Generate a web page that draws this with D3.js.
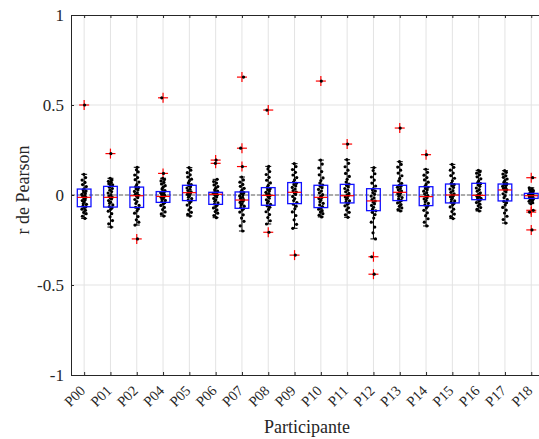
<!DOCTYPE html>
<html><head><meta charset="utf-8">
<script src="https://cdn.jsdelivr.net/npm/d3@7"></script>
<style>body{margin:0;background:#fff}svg{display:block}text{font-family:"Liberation Serif","Times New Roman",serif !important;fill:#262626}</style>
</head><body><svg id="c" width="539" height="439"></svg>
<script>
const categories = ["P00","P01","P02","P04","P05","P06","P07","P08","P09","P10","P11","P12","P13","P14","P15","P16","P17","P18"];
// box stats: whisker low, q1, median, q3, whisker high
const whiskerLo = [-0.13,-0.178,-0.167,-0.117,-0.117,-0.126,-0.20,-0.161,-0.185,-0.122,-0.124,-0.244,-0.089,-0.172,-0.131,-0.089,-0.156,-0.048];
const q1 =        [-0.065,-0.067,-0.069,-0.041,-0.031,-0.052,-0.074,-0.057,-0.048,-0.07,-0.044,-0.087,-0.031,-0.059,-0.044,-0.026,-0.033,-0.019];
const medians =   [-0.013,-0.013,-0.004,-0.008,0.013,0.004,-0.028,-0.002,0.015,-0.013,-0.004,-0.033,0.015,-0.009,0.0,-0.002,0.028,-0.004];
const q3 =        [0.033,0.048,0.044,0.019,0.054,0.015,0.017,0.041,0.069,0.054,0.059,0.035,0.054,0.046,0.061,0.065,0.061,0.009];
const whiskerHi = [0.115,0.093,0.154,0.093,0.152,0.087,0.10,0.159,0.174,0.194,0.196,0.152,0.185,0.143,0.17,0.137,0.135,0.04];
const outliers = [[0.50],[0.23],[-0.244],[0.54,0.12],[],[0.194,0.176],[0.655,0.26,0.158],[0.472,-0.207],[-0.334],[0.633],[0.283],[-0.343,-0.44],[0.372],[0.224],[],[],[],[0.096,-0.085,-0.095,-0.194]];
const points = [
 [-0.13,-0.118,-0.104,-0.097,-0.085,-0.079,-0.07,-0.066,-0.061,-0.052,-0.048,-0.039,-0.031,-0.026,-0.02,-0.013,-0.009,-0.004,0.003,0.009,0.016,0.022,0.029,0.034,0.047,0.058,0.07,0.083,0.097,0.115,0.50],
 [-0.178,-0.16,-0.142,-0.121,-0.104,-0.09,-0.079,-0.071,-0.064,-0.055,-0.046,-0.04,-0.031,-0.022,-0.016,-0.012,-0.006,0.002,0.011,0.019,0.027,0.036,0.043,0.05,0.057,0.063,0.07,0.076,0.084,0.093,0.23],
 [-0.244,-0.167,-0.151,-0.138,-0.12,-0.101,-0.088,-0.077,-0.068,-0.058,-0.047,-0.036,-0.025,-0.015,-0.007,-0.002,0.004,0.012,0.02,0.028,0.035,0.041,0.047,0.058,0.072,0.085,0.097,0.111,0.128,0.14,0.154],
 [-0.117,-0.105,-0.094,-0.081,-0.069,-0.058,-0.049,-0.043,-0.037,-0.03,-0.024,-0.018,-0.013,-0.009,-0.006,-0.002,0.003,0.008,0.012,0.016,0.019,0.025,0.034,0.043,0.052,0.061,0.07,0.078,0.086,0.093,0.12,0.54],
 [-0.117,-0.108,-0.096,-0.083,-0.07,-0.056,-0.045,-0.036,-0.029,-0.02,-0.012,-0.004,0.003,0.009,0.013,0.018,0.025,0.032,0.039,0.046,0.052,0.058,0.067,0.078,0.088,0.1,0.112,0.124,0.138,0.152],
 [-0.126,-0.114,-0.101,-0.092,-0.083,-0.072,-0.063,-0.056,-0.05,-0.043,-0.035,-0.027,-0.019,-0.011,-0.004,0.001,0.004,0.007,0.01,0.012,0.015,0.021,0.029,0.038,0.047,0.056,0.066,0.075,0.087,0.176,0.194],
 [-0.2,-0.171,-0.146,-0.128,-0.11,-0.095,-0.084,-0.077,-0.07,-0.062,-0.055,-0.049,-0.041,-0.035,-0.03,-0.026,-0.019,-0.012,-0.005,0.002,0.008,0.013,0.018,0.027,0.037,0.048,0.059,0.071,0.084,0.1,0.158,0.26,0.655],
 [-0.207,-0.161,-0.143,-0.125,-0.109,-0.093,-0.08,-0.068,-0.06,-0.052,-0.044,-0.035,-0.027,-0.018,-0.009,-0.003,0.002,0.008,0.015,0.022,0.029,0.035,0.042,0.054,0.067,0.082,0.098,0.114,0.13,0.145,0.159,0.472],
 [-0.334,-0.185,-0.163,-0.138,-0.114,-0.094,-0.077,-0.062,-0.051,-0.042,-0.031,-0.02,-0.008,0.003,0.011,0.016,0.024,0.033,0.042,0.05,0.058,0.065,0.072,0.084,0.097,0.111,0.126,0.141,0.158,0.174],
 [-0.122,-0.112,-0.104,-0.095,-0.087,-0.079,-0.072,-0.064,-0.055,-0.046,-0.037,-0.028,-0.02,-0.014,-0.007,0.002,0.012,0.022,0.031,0.04,0.048,0.055,0.066,0.08,0.095,0.112,0.13,0.15,0.172,0.194,0.633],
 [-0.124,-0.11,-0.096,-0.083,-0.071,-0.06,-0.051,-0.045,-0.039,-0.032,-0.025,-0.018,-0.011,-0.005,0.001,0.009,0.018,0.027,0.036,0.045,0.053,0.06,0.072,0.087,0.103,0.12,0.138,0.157,0.176,0.196,0.283],
 [-0.44,-0.343,-0.244,-0.21,-0.178,-0.151,-0.128,-0.109,-0.096,-0.088,-0.079,-0.068,-0.058,-0.049,-0.04,-0.034,-0.026,-0.016,-0.006,0.004,0.013,0.022,0.029,0.036,0.05,0.066,0.083,0.1,0.118,0.136,0.152],
 [-0.089,-0.081,-0.072,-0.063,-0.053,-0.044,-0.036,-0.03,-0.022,-0.014,-0.007,0.0,0.007,0.012,0.016,0.022,0.029,0.036,0.043,0.049,0.054,0.065,0.078,0.092,0.107,0.122,0.138,0.155,0.17,0.185,0.372],
 [-0.172,-0.151,-0.132,-0.115,-0.099,-0.085,-0.072,-0.062,-0.055,-0.046,-0.038,-0.03,-0.022,-0.015,-0.009,-0.003,0.005,0.013,0.021,0.029,0.036,0.043,0.048,0.059,0.071,0.084,0.097,0.11,0.126,0.143,0.224],
 [-0.131,-0.12,-0.106,-0.092,-0.079,-0.066,-0.055,-0.047,-0.04,-0.033,-0.025,-0.017,-0.01,-0.004,0.0,0.007,0.015,0.024,0.033,0.042,0.051,0.058,0.065,0.079,0.093,0.108,0.122,0.138,0.154,0.17],
 [-0.089,-0.08,-0.07,-0.06,-0.051,-0.042,-0.034,-0.028,-0.023,-0.018,-0.013,-0.009,-0.005,-0.002,0.004,0.012,0.021,0.03,0.039,0.048,0.056,0.063,0.069,0.079,0.09,0.101,0.112,0.121,0.13,0.137],
 [-0.156,-0.136,-0.118,-0.1,-0.084,-0.069,-0.055,-0.043,-0.035,-0.026,-0.015,-0.004,0.007,0.017,0.024,0.03,0.036,0.042,0.048,0.054,0.059,0.063,0.071,0.08,0.089,0.098,0.107,0.116,0.126,0.135],
 [-0.194,-0.095,-0.085,-0.048,-0.041,-0.035,-0.03,-0.026,-0.022,-0.02,-0.016,-0.013,-0.01,-0.007,-0.005,-0.003,0.0,0.002,0.004,0.006,0.008,0.01,0.014,0.019,0.024,0.029,0.034,0.04,0.096]
];
// horizontal jitter (fraction of category step)
const jitter = [0.05,-0.12,0.14,-0.03,0.09,-0.15,0.02,0.11,-0.08,0.16,-0.06,0.01,-0.13,0.07,-0.01,0.12,-0.1,0.04,-0.16,0.08,-0.04,0.13,-0.07,0.0,0.15,-0.11,0.06,-0.14,0.1,-0.02,0.03,-0.09,0.11];
const yTicks = [-1,-0.5,0,0.5,1];
const yTickLabels = ["-1","-0.5","0","0.5","1"];

const FONT = '"Liberation Serif","Times New Roman",serif';
const svg = d3.select("#c");
const L=71, T=15, R=544.4, B=375;
const x = d3.scalePoint().domain(categories).range([L,R]).padding(0.5);
const step = x.step();
const y = d3.scaleLinear().domain([-1,1]).range([B,T]);
const g = svg.append("g");

// grid
g.selectAll(".vg").data(categories).join("line")
 .attr("x1",d=>x(d)).attr("x2",d=>x(d)).attr("y1",T).attr("y2",B)
 .attr("stroke","#e3e3e3").attr("stroke-width",1);
g.selectAll(".hg").data(yTicks.filter(v=>v!==-1&&v!==1)).join("line")
 .attr("x1",L).attr("x2",R).attr("y1",d=>y(d)).attr("y2",d=>y(d))
 .attr("stroke","#e3e3e3").attr("stroke-width",1);
// zero dashed line
g.append("line").attr("x1",L).attr("x2",R).attr("y1",y(0)).attr("y2",y(0))
 .attr("stroke","#666").attr("stroke-width",1).attr("stroke-dasharray","4,2");

const idx = d3.range(categories.length);
const bw = step*0.52, cap = 3;
// whiskers
idx.forEach(i=>{
  const cx = x(categories[i]);
  g.append("line").attr("x1",cx).attr("x2",cx).attr("y1",y(whiskerLo[i])).attr("y2",y(q1[i])).attr("stroke","#000");
  g.append("line").attr("x1",cx).attr("x2",cx).attr("y1",y(q3[i])).attr("y2",y(whiskerHi[i])).attr("stroke","#000");
  [whiskerLo[i],whiskerHi[i]].forEach(v=>g.append("line").attr("x1",cx-cap).attr("x2",cx+cap).attr("y1",y(v)).attr("y2",y(v)).attr("stroke","#000"));
});
// outliers
idx.forEach(i=>{
  const cx = x(categories[i]);
  outliers[i].forEach(v=>{
    g.append("line").attr("x1",cx-5).attr("x2",cx+5).attr("y1",y(v)).attr("y2",y(v)).attr("stroke","#ff0000").attr("stroke-width",1.2);
    g.append("line").attr("x1",cx).attr("x2",cx).attr("y1",y(v)-5).attr("y2",y(v)+5).attr("stroke","#ff0000").attr("stroke-width",1.2);
  });
});
// points
idx.forEach(i=>{
  const cx = x(categories[i]);
  g.append("g").selectAll("circle").data(points[i]).join("circle")
   .attr("cx",(d,j)=>cx+jitter[j%jitter.length]*step*0.55)
   .attr("cy",d=>y(d)).attr("r",1.6).attr("fill","#000");
});
// boxes and medians
idx.forEach(i=>{
  const cx = x(categories[i]);
  g.append("rect").attr("x",cx-bw/2).attr("width",bw).attr("y",y(q3[i])).attr("height",y(q1[i])-y(q3[i]))
   .attr("fill","none").attr("stroke","#1010ff").attr("stroke-width",1.3);
  g.append("line").attr("x1",cx-bw/2).attr("x2",cx+bw/2).attr("y1",y(medians[i])).attr("y2",y(medians[i]))
   .attr("stroke","#ff0000").attr("stroke-width",1.2);
});

// axes
const ax = d3.axisBottom(x).tickSizeInner(-3).tickSizeOuter(0).tickPadding(6);
const xa = svg.append("g").attr("transform",`translate(0,${B})`).call(ax);
xa.attr("font-family",FONT);
xa.select(".domain").attr("stroke","#262626");
xa.selectAll(".tick line").attr("stroke","#262626");
xa.selectAll(".tick text").attr("font-size",14.5).attr("fill","#262626")
  .attr("text-anchor","end").attr("dy","0.35em").attr("y",0).attr("x",0).attr("transform","translate(-2,13) rotate(-45)");
const xt = svg.append("g").attr("transform",`translate(0,${T})`).call(d3.axisTop(x).tickSizeInner(-3).tickSizeOuter(0).tickFormat(""));
xt.select(".domain").attr("stroke","#262626");
xt.selectAll(".tick line").attr("stroke","#262626");

const ya = svg.append("g").attr("transform",`translate(${L},0)`)
 .call(d3.axisLeft(y).tickValues(yTicks).tickFormat((d,i)=>yTickLabels[i]).tickSizeInner(-3).tickSizeOuter(0).tickPadding(7));
ya.attr("font-family",FONT);
ya.select(".domain").attr("stroke","#262626");
ya.selectAll(".tick line").attr("stroke","#262626");
ya.selectAll(".tick text").attr("font-size",17).attr("fill","#262626");
svg.selectAll("text").style("font-family",FONT);

svg.append("text").attr("x",307).attr("y",433).attr("text-anchor","middle").attr("font-size",18).style("font-family",FONT).text("Participante");
svg.append("text").attr("transform","translate(29,190) rotate(-90)").attr("text-anchor","middle").attr("font-size",18).style("font-family",FONT).text("r de Pearson");
</script></body></html>
